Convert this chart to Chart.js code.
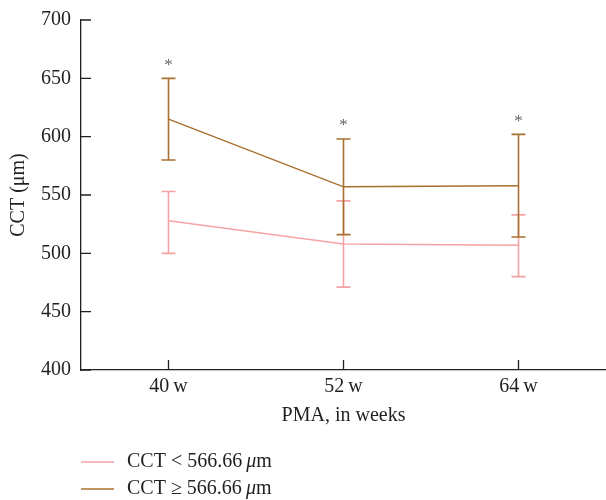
<!DOCTYPE html>
<html>
<head>
<meta charset="utf-8">
<script src="https://cdn.jsdelivr.net/npm/chart.js@4"></script>
<style>
html, body { margin: 0; padding: 0; background: #fff; }
#wrap { width: 606px; height: 500px; }
</style>
</head>
<body>
<div id="wrap"><canvas id="cctChart"></canvas></div>
<script>
// data
const weeks = ["40\u2009w", "52\u2009w", "64\u2009w"];
const lowMean = [528, 508, 507];
const lowUpper = [553, 545, 533];
const lowLower = [500, 471, 480];
const highMean = [615, 557, 558];
const highUpper = [650, 598, 602];
const highLower = [580, 516, 514];
const marks = ["*", "*", "*"];

const pink = "#f5a3a3";
const brown = "#a8702f";
const ink = "#231f20";
const serif = "'Liberation Serif', 'DejaVu Serif', serif";

// tick marks pointing into the plot area
const innerTicks = {
    id: "innerTicks",
    afterDraw(chart) {
        const ctx = chart.ctx;
        const x = chart.scales.x, y = chart.scales.y;
        const area = chart.chartArea;
        ctx.save();
        ctx.strokeStyle = ink;
        ctx.lineWidth = 1.3;
        ctx.beginPath();
        x.ticks.forEach((t, i) => {
            const px = x.getPixelForTick(i);
            ctx.moveTo(px, area.bottom); ctx.lineTo(px, area.bottom - 10);
        });
        y.ticks.forEach((t, i) => {
            const py = y.getPixelForTick(i);
            ctx.moveTo(area.left, py); ctx.lineTo(area.left + 10, py);
        });
        ctx.stroke();
        ctx.restore();
    }
};

// vertical error bars with caps
const errorBars = {
    id: "errorBars",
    beforeDatasetsDraw(chart) {
        const ctx = chart.ctx;
        const x = chart.scales.x, y = chart.scales.y;
        chart.data.datasets.forEach(ds => {
            ctx.save();
            ctx.strokeStyle = ds.borderColor;
            ctx.lineWidth = 1.6;
            ds.upper.forEach((up, i) => {
                const px = x.getPixelForValue(i);
                const yu = y.getPixelForValue(up);
                const yl = y.getPixelForValue(ds.lower[i]);
                ctx.beginPath();
                ctx.moveTo(px, yu); ctx.lineTo(px, yl);
                ctx.moveTo(px - 7, yu); ctx.lineTo(px + 7, yu);
                ctx.moveTo(px - 7, yl); ctx.lineTo(px + 7, yl);
                ctx.stroke();
            });
            ctx.restore();
        });
    },
    afterDatasetsDraw(chart) {
        const ctx = chart.ctx;
        const x = chart.scales.x, y = chart.scales.y;
        ctx.save();
        ctx.fillStyle = "#666";
        ctx.font = "17px " + serif;
        ctx.textAlign = "center";
        ctx.textBaseline = "middle";
        marks.forEach((m, i) => {
            ctx.fillText(m, x.getPixelForValue(i), y.getPixelForValue(highUpper[i]) - 13);
        });
        ctx.restore();
    }
};

// two-row legend under the axis, with italic mu
const stackedLegend = {
    id: "stackedLegend",
    afterDraw(chart) {
        const ctx = chart.ctx;
        const left = chart.chartArea.left;
        const rows = [chart.height - 38, chart.height - 11];
        ctx.save();
        ctx.textBaseline = "middle";
        chart.data.datasets.forEach((ds, i) => {
            const yy = rows[i];
            ctx.strokeStyle = ds.borderColor;
            ctx.lineWidth = 1.5;
            ctx.beginPath();
            ctx.moveTo(left, yy); ctx.lineTo(left + 33, yy);
            ctx.stroke();
            ctx.fillStyle = ink;
            let tx = left + 46;
            const parts = ds.label.split("μ");
            ctx.font = "20px " + serif;
            ctx.fillText(parts[0], tx, yy);
            tx += ctx.measureText(parts[0]).width;
            ctx.font = "italic 20px " + serif;
            ctx.fillText("μ", tx, yy);
            tx += ctx.measureText("μ").width;
            ctx.font = "20px " + serif;
            ctx.fillText(parts[1], tx, yy);
        });
        ctx.restore();
    }
};

new Chart(document.getElementById("cctChart").getContext("2d"), {
    type: "line",
    data: {
        labels: weeks,
        datasets: [{
            label: "CCT < 566.66\u2009μm",
            data: lowMean,
            upper: lowUpper,
            lower: lowLower,
            borderColor: pink,
            borderWidth: 1.5,
            pointRadius: 0,
            tension: 0
        }, {
            label: "CCT ≥ 566.66\u2009μm",
            data: highMean,
            upper: highUpper,
            lower: highLower,
            borderColor: brown,
            borderWidth: 1.5,
            pointRadius: 0,
            tension: 0
        }]
    },
    options: {
        responsive: true,
        maintainAspectRatio: false,
        animation: false,
        layout: { padding: { top: 2, right: 0, bottom: 68, left: 3 } },
        plugins: {
            legend: { display: false },
            tooltip: { enabled: false }
        },
        scales: {
            x: {
                offset: true,
                grid: { offset: false, drawOnChartArea: false, drawTicks: false },
                border: { color: ink, width: 1.3 },
                ticks: { color: ink, font: { family: serif, size: 20 }, padding: 5 },
                title: { display: true, text: "PMA, in weeks", color: ink, font: { family: serif, size: 20 }, padding: { top: 0 } }
            },
            y: {
                min: 400,
                max: 700,
                ticks: { stepSize: 50, color: ink, font: { family: serif, size: 20, lineHeight: 1 }, padding: 10 },
                grid: { drawOnChartArea: false, drawTicks: false },
                border: { color: ink, width: 1.3 },
                title: { display: true, text: "CCT (μm)", color: ink, font: { family: serif, size: 20 }, padding: { bottom: 0 } }
            }
        }
    },
    plugins: [innerTicks, errorBars, stackedLegend]
});
</script>
</body>
</html>
